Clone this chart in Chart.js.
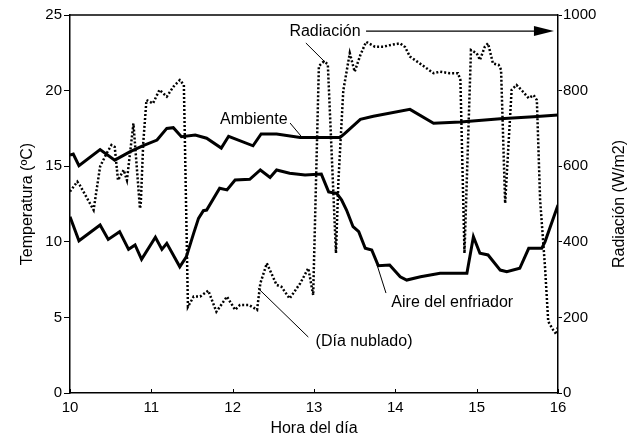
<!DOCTYPE html>
<html>
<head>
<meta charset="utf-8">
<script src="https://cdn.jsdelivr.net/npm/chart.js@4.4.1/dist/chart.umd.min.js"></script>
<style>
  html, body { margin: 0; padding: 0; background: #fff; }
  canvas { display: block; }
</style>
</head>
<body>
<canvas id="c" width="636" height="437"></canvas>
<script>
// ---- Data ----
const horaTicks = [10, 11, 12, 13, 14, 15, 16];
const tempTicks = [0, 5, 10, 15, 20, 25];
const radTicks = [0, 200, 400, 600, 800, 1000];

const ambienteHora = [10.00,10.04,10.11,10.37,10.55,10.74,10.90,11.07,11.19,11.27,11.37,11.54,11.68,11.86,11.95,12.25,12.35,12.54,12.83,13.07,13.32,13.38,13.57,13.73,14.18,14.47,14.80,15.29,15.70,16.00];
const ambienteTemp = [15.74,15.80,15.03,16.10,15.40,15.96,16.36,16.73,17.50,17.55,16.95,17.06,16.85,16.20,16.98,16.35,17.13,17.13,16.90,16.90,16.90,17.17,18.10,18.30,18.76,17.84,17.92,18.14,18.27,18.39];

const aireHora = [10.00,10.11,10.37,10.47,10.61,10.72,10.80,10.88,11.05,11.13,11.19,11.35,11.43,11.52,11.58,11.64,11.68,11.84,11.93,12.03,12.21,12.34,12.46,12.54,12.70,12.89,13.09,13.18,13.28,13.34,13.40,13.48,13.55,13.63,13.71,13.79,13.93,14.06,14.14,14.31,14.55,14.88,14.96,15.04,15.14,15.29,15.37,15.53,15.64,15.80,15.84,16.00];
const aireTemp = [11.66,10.07,11.11,10.16,10.67,9.50,9.79,8.84,10.30,9.50,9.90,8.35,9.00,10.56,11.55,12.06,12.10,13.54,13.43,14.09,14.13,14.75,14.26,14.75,14.53,14.42,14.48,13.30,13.20,12.76,12.10,11.00,10.67,9.57,9.46,8.42,8.47,7.69,7.47,7.69,7.92,7.92,10.34,9.24,9.13,8.13,8.02,8.25,9.57,9.57,10.00,12.43];

const radHora = [10.00,10.09,10.12,10.29,10.37,10.45,10.51,10.55,10.59,10.66,10.70,10.78,10.86,10.87,10.90,10.94,11.02,11.10,11.19,11.27,11.35,11.40,11.45,11.52,11.60,11.70,11.80,11.93,12.03,12.09,12.20,12.30,12.34,12.42,12.54,12.60,12.70,12.83,12.93,12.99,13.06,13.12,13.17,13.27,13.30,13.36,13.44,13.50,13.57,13.64,13.75,13.85,13.95,14.06,14.12,14.18,14.30,14.47,14.55,14.67,14.77,14.80,14.85,14.93,15.00,15.04,15.10,15.14,15.20,15.27,15.30,15.35,15.43,15.49,15.57,15.64,15.70,15.74,15.78,15.84,15.88,15.94,15.98,16.00];
const radValor = [533,559,550,484,599,634,656,651,563,590,563,713,488,500,660,775,766,802,784,810,828,815,228,255,255,271,215,255,220,233,233,220,290,343,286,281,250,290,330,259,865,877,870,370,560,800,899,850,894,929,916,916,921,925,915,890,872,846,850,846,846,828,370,907,899,881,916,925,872,868,855,502,802,815,797,780,788,775,511,334,189,167,155,175];

// ---- Annotation texts (anchored in data coordinates: hour, °C) ----
const notaTextos = ['Radiación', 'Ambiente', 'Aire del enfriador', '(Día nublado)'];
const notaPos = [[13.135, 23.88], [12.26, 18.06], [14.70, 5.95], [13.615, 3.37]];
const guiaLineas = [
  [[12.90, 23.15], [13.135, 21.89]],
  [[12.705, 17.86], [12.85, 16.93]],
  [[13.885, 6.61], [13.775, 8.47]],
  [[12.93, 3.70], [12.31, 6.94]]
];
const flecha = [[13.64, 23.94], [15.95, 23.94]];

const FONT = '"Liberation Sans", Arial, Helvetica, sans-serif';
Chart.defaults.font.family = FONT;
Chart.defaults.color = '#000';

const toPts = (xs, ys) => xs.map((x, i) => ({x: x, y: ys[i]}));

const annotPlugin = {
  id: 'annot',
  afterDraw(chart) {
    const ctx = chart.ctx;
    const xs = chart.scales.x, ys = chart.scales.y;
    const ca = chart.chartArea;
    const px = v => xs.getPixelForValue(v);
    const py = v => ys.getPixelForValue(v);
    ctx.save();
    // top frame line
    ctx.strokeStyle = '#000';
    ctx.lineWidth = 1.5;
    ctx.beginPath();
    ctx.moveTo(ca.left, ca.top);
    ctx.lineTo(ca.right, ca.top);
    ctx.stroke();
    // small inner ticks on x axis
    ctx.lineWidth = 1;
    horaTicks.forEach(h => {
      const x = Math.round(px(h)) + 0.5;
      ctx.beginPath();
      ctx.moveTo(x, ca.bottom);
      ctx.lineTo(x, ca.bottom - 4);
      ctx.stroke();
    });
    // leader lines
    ctx.lineWidth = 1;
    guiaLineas.forEach(l => {
      ctx.beginPath();
      ctx.moveTo(px(l[0][0]), py(l[0][1]));
      ctx.lineTo(px(l[1][0]), py(l[1][1]));
      ctx.stroke();
    });
    // arrow
    const ax0 = px(flecha[0][0]), ax1 = px(flecha[1][0]), ay = py(flecha[0][1]);
    ctx.lineWidth = 1.3;
    ctx.beginPath();
    ctx.moveTo(ax0, ay);
    ctx.lineTo(ax1 - 10, ay);
    ctx.stroke();
    ctx.fillStyle = '#000';
    ctx.beginPath();
    ctx.moveTo(ax1, ay);
    ctx.lineTo(ax1 - 20, ay - 5);
    ctx.lineTo(ax1 - 20, ay + 5);
    ctx.closePath();
    ctx.fill();
    // texts
    ctx.font = '16px ' + FONT;
    ctx.textAlign = 'center';
    ctx.textBaseline = 'middle';
    notaTextos.forEach((t, i) => {
      const x = px(notaPos[i][0]), y = py(notaPos[i][1]);
      ctx.fillStyle = '#fff';
      const w = ctx.measureText(t).width;
      ctx.fillRect(x - w / 2 - 2, y - 9, w + 4, 18);
      ctx.fillStyle = '#000';
      ctx.fillText(t, x, y);
    });
    // right axis title, rotated like the left one
    ctx.save();
    ctx.translate(620, (ca.top + ca.bottom) / 2);
    ctx.rotate(-Math.PI / 2);
    ctx.fillText('Radiación (W/m2)', 0, 0);
    ctx.restore();
    ctx.restore();
  }
};

new Chart(document.getElementById('c'), {
  type: 'line',
  data: {
    datasets: [
      {
        label: 'Radiación',
        data: toPts(radHora, radValor),
        yAxisID: 'yR',
        borderColor: '#000',
        borderWidth: 2.5,
        borderDash: [2, 2],
        pointRadius: 0,
        tension: 0,
        fill: false
      },
      {
        label: 'Ambiente',
        data: toPts(ambienteHora, ambienteTemp),
        yAxisID: 'y',
        borderColor: '#000',
        borderWidth: 3,
        pointRadius: 0,
        tension: 0,
        fill: false
      },
      {
        label: 'Aire del enfriador',
        data: toPts(aireHora, aireTemp),
        yAxisID: 'y',
        borderColor: '#000',
        borderWidth: 3,
        pointRadius: 0,
        tension: 0,
        fill: false
      }
    ]
  },
  options: {
    responsive: false,
    devicePixelRatio: 1,
    animation: false,
    layout: { padding: { top: 15, left: 0, right: 0, bottom: 0 } },
    plugins: { legend: { display: false }, tooltip: { enabled: false } },
    scales: {
      x: {
        type: 'linear',
        position: 'bottom',
        min: horaTicks[0],
        max: horaTicks[horaTicks.length - 1],
        afterBuildTicks: s => { s.ticks = horaTicks.map(v => ({value: v})); },
        ticks: { font: { size: 15 }, color: '#000', padding: 6, maxRotation: 0, callback: v => String(v) },
        grid: { display: true, drawOnChartArea: false, drawTicks: false },
        border: { display: true, color: '#000', width: 1.5 },
        title: { display: true, text: 'Hora del día', font: { size: 16, lineHeight: 1 }, color: '#000', padding: { top: 0, bottom: 0 } },
        afterFit: s => { s.height = 44; }
      },
      y: {
        position: 'left',
        min: tempTicks[0],
        max: tempTicks[tempTicks.length - 1],
        afterBuildTicks: s => { s.ticks = tempTicks.map(v => ({value: v})); },
        ticks: { font: { size: 15 }, color: '#000', padding: 2, callback: v => String(v) },
        grid: { display: true, drawOnChartArea: false, drawTicks: true, tickLength: 6, color: '#000', lineWidth: 1 },
        border: { display: true, color: '#000', width: 1.5 },
        title: { display: true, text: 'Temperatura (ºC)', font: { size: 16, lineHeight: 1 }, color: '#000', padding: { top: 20, bottom: 0 } },
        afterFit: s => { s.width = 70; }
      },
      yR: {
        position: 'right',
        min: radTicks[0],
        max: radTicks[radTicks.length - 1],
        afterBuildTicks: s => { s.ticks = radTicks.map(v => ({value: v})); },
        ticks: { font: { size: 15 }, color: '#000', padding: 1, callback: v => String(v) },
        grid: { display: true, drawOnChartArea: false, drawTicks: true, tickLength: 4, color: '#000', lineWidth: 1 },
        border: { display: true, color: '#000', width: 1.5 },
        title: { display: false },
        afterFit: s => { s.width = 78; }
      }
    }
  },
  plugins: [annotPlugin]
});
</script>
</body>
</html>
